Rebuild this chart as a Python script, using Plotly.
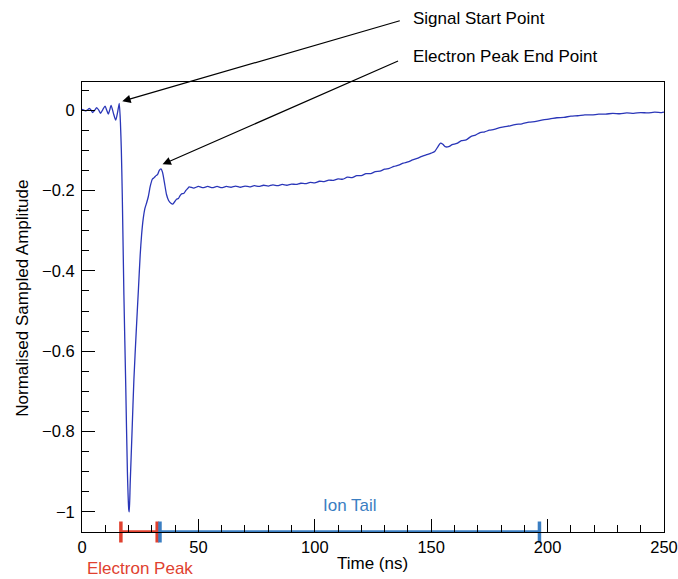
import plotly.graph_objects as go

# ---- data ----
time_ns = [0, 0.8, 1.7, 2.4, 3.15, 3.9, 4.6, 5.5, 6.3, 7.2, 8.0, 9.0, 9.9, 10.6, 11.3, 11.9,
           12.5, 13.5, 14.5, 15.3, 16.0, 16.5, 16.9, 17.3, 18.0, 18.8, 19.5, 20.1, 20.3, 20.7,
           21.5, 22.3, 23.3, 24.2, 25.0, 25.6, 26.3, 27.0, 27.8, 28.5, 29.3, 30.2, 31.0, 31.8,
           32.5, 33.2, 33.9, 34.6, 35.4, 36.3, 37.2, 38.2, 39.0, 39.8, 40.6, 41.4, 42.2, 43.0,
           43.8, 44.6, 45.4,
           46, 48, 50, 52, 54, 56, 58, 60, 62, 64, 66, 68, 70, 72, 74, 76, 78, 80, 82, 84, 86,
           88, 90, 92, 94, 96, 98, 100, 102, 104, 106, 108, 110, 112, 114, 116, 118, 120, 122,
           124, 126, 128, 130, 132, 134, 136, 138, 140, 142, 144, 146, 148, 150,
           151.5, 153, 154, 155, 156, 157.5, 159, 161, 163, 165, 167, 169, 171, 173, 175, 177,
           180, 183, 186, 189, 192, 195, 198, 201, 204, 207, 210, 213, 216, 219, 222, 225, 228,
           231, 234, 237, 240, 243, 246, 249, 250]
amplitude = [0.002, 0.000, -0.002, 0.001, 0.004, 0.000, -0.006, 0.000, 0.006, 0.000, -0.008,
             0.002, 0.010, 0.000, -0.010, 0.000, 0.012, -0.008, -0.025, -0.005, 0.017, -0.03,
             -0.10, -0.21, -0.46, -0.69, -0.90, -0.995, -1.0, -0.93, -0.80, -0.67, -0.55, -0.45,
             -0.36, -0.31, -0.27, -0.245, -0.23, -0.215, -0.19, -0.172, -0.168, -0.163, -0.16,
             -0.15, -0.146, -0.155, -0.18, -0.21, -0.225, -0.232, -0.234, -0.228, -0.222, -0.22,
             -0.212, -0.208, -0.207, -0.200, -0.195,
             -0.191, -0.194, -0.190, -0.193, -0.190, -0.193, -0.190, -0.193, -0.190, -0.192,
             -0.189, -0.192, -0.189, -0.191, -0.188, -0.190, -0.187, -0.189, -0.186, -0.188,
             -0.185, -0.187, -0.184, -0.185, -0.182, -0.183, -0.180, -0.181, -0.177, -0.178,
             -0.174, -0.175, -0.171, -0.172, -0.167, -0.168, -0.163, -0.163, -0.158, -0.158,
             -0.153, -0.152, -0.147, -0.145, -0.140, -0.137, -0.132, -0.129, -0.124, -0.120,
             -0.115, -0.111, -0.107,
             -0.103, -0.090, -0.082, -0.085, -0.091, -0.091, -0.086, -0.083, -0.076, -0.074,
             -0.066, -0.062, -0.056, -0.054, -0.050, -0.048, -0.043, -0.040, -0.036, -0.034,
             -0.030, -0.028, -0.024, -0.022, -0.019, -0.018, -0.015, -0.014, -0.012, -0.012,
             -0.010, -0.010, -0.008, -0.009, -0.007, -0.008, -0.006, -0.007, -0.005, -0.006,
             -0.005]

electron_peak_range = [16.7, 32.3]
ion_tail_range = [33.5, 196.5]
signal_start = (17.3, 0.022)
electron_peak_end = (34.6, -0.135)

x_range = [0, 250]
y_range = [-1.05, 0.07]

FONT = "Liberation Sans, Arial, Helvetica, sans-serif"
LINE_BLUE = "#2a36b8"
RED = "#e0412f"
BLUE = "#3a7ec2"

fig = go.Figure()
fig.add_trace(go.Scatter(x=time_ns, y=amplitude, mode="lines",
                         line=dict(color=LINE_BLUE, width=1.3, shape="spline", smoothing=0.6),
                         showlegend=False, hoverinfo="skip"))

bar_y = y_range[0]
fig.add_trace(go.Scatter(x=electron_peak_range, y=[bar_y, bar_y], mode="lines+markers",
                         line=dict(color=RED, width=3.5),
                         marker=dict(symbol="line-ns", size=15, line=dict(color=RED, width=3.5)),
                         cliponaxis=False, showlegend=False, hoverinfo="skip"))
fig.add_trace(go.Scatter(x=ion_tail_range, y=[bar_y, bar_y], mode="lines+markers",
                         line=dict(color=BLUE, width=3.5),
                         marker=dict(symbol="line-ns", size=15, line=dict(color=BLUE, width=3.5)),
                         cliponaxis=False, showlegend=False, hoverinfo="skip"))

axis_common = dict(showline=True, linecolor="black", linewidth=1, mirror=True,
                   ticks="inside", tickcolor="black", ticklen=13, tickwidth=1,
                   showgrid=False, zeroline=False, automargin=False,
                   tickfont=dict(family=FONT, size=16.5, color="black"))
fig.update_xaxes(range=x_range, tick0=0, dtick=50, ticklabeloverflow="allow",
                 minor=dict(ticks="inside", ticklen=7, dtick=10, tickcolor="black", showgrid=False),
                 **axis_common)
fig.update_yaxes(range=y_range, tick0=0, dtick=0.2, ticklabelstandoff=3,
                 minor=dict(ticks="inside", ticklen=7, dtick=0.05, tickcolor="black", showgrid=False),
                 **axis_common)

txt = dict(family=FONT, size=17, color="black")
annotations = [
    dict(x=signal_start[0], y=signal_start[1], ax=279, ay=-81, text="", showarrow=True,
         arrowhead=2, arrowsize=1.4, arrowwidth=1.2, arrowcolor="black", xref="x", yref="y"),
    dict(x=electron_peak_end[0], y=electron_peak_end[1], ax=237, ay=-104, text="", showarrow=True,
         arrowhead=2, arrowsize=1.4, arrowwidth=1.2, arrowcolor="black", xref="x", yref="y"),
    dict(x=0.5648, y=1.1422, text="Signal Start Point", showarrow=False, xanchor="left",
         yanchor="middle", font=txt, xref="paper", yref="paper"),
    dict(x=0.5648, y=1.0556, text="Electron Peak End Point", showarrow=False, xanchor="left",
         yanchor="middle", font=txt, xref="paper", yref="paper"),
    dict(x=0.0997, y=-0.080, text="Electron Peak", showarrow=False, xanchor="center",
         yanchor="middle", font=dict(family=FONT, size=17, color=RED), xref="paper", yref="paper"),
    dict(x=0.4605, y=0.0578, text="Ion Tail", showarrow=False, xanchor="center",
         yanchor="middle", font=dict(family=FONT, size=17, color=BLUE), xref="paper", yref="paper"),
    dict(x=0.4983, y=-0.0689, text="Time (ns)", showarrow=False, xanchor="center",
         yanchor="middle", font=txt, xref="paper", yref="paper"),
    dict(x=-0.1036, y=0.52, text="Normalised Sampled Amplitude", showarrow=False, textangle=-90,
         xanchor="center", yanchor="middle", font=txt, xref="paper", yref="paper"),
]
fig.update_layout(width=678, height=579, autosize=False,
                  margin=dict(l=82, r=14, t=82, b=47, autoexpand=False),
                  paper_bgcolor="white", plot_bgcolor="white",
                  annotations=annotations, showlegend=False, hovermode=False)

# remove the default 8 px page margin so the figure fills the window exactly
fig.write_html("out.html", config={"displayModeBar": False},
               post_script="document.body.style.margin='0px';")
